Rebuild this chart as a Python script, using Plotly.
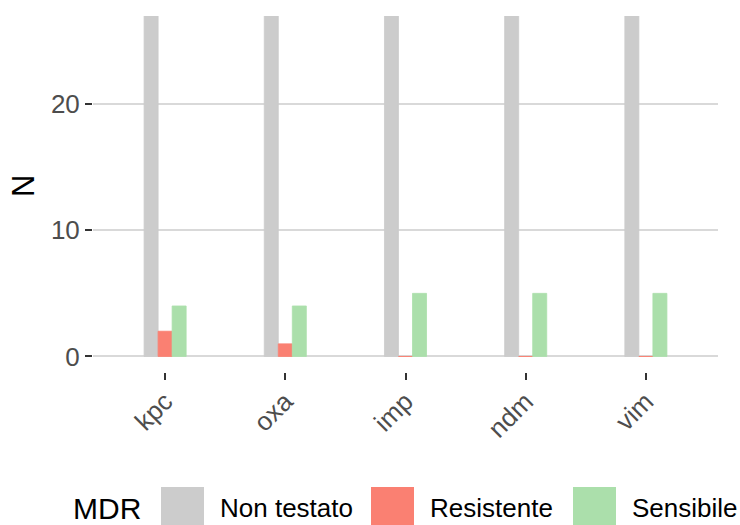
import plotly.graph_objects as go

# Carbapenemase genes tested and counts per MDR status
genes = ["kpc", "oxa", "imp", "ndm", "vim"]
status = ["Non testato", "Resistente", "Sensibile"]
non_testato = [48, 49, 49, 49, 49]
resistente = [2, 1, 0, 0, 0]
sensibile = [4, 4, 5, 5, 5]
colors = ["#CCCCCC", "#FA8072", "#ABDFAB"]
y_ticks = [0, 10, 20]

series = [non_testato, resistente, sensibile]

FONT = "Liberation Sans, Arial, Helvetica, sans-serif"
W, H = 740, 525
ML, MR, MT, MB = 93, 22, 16, 153

fig = go.Figure()
for name, vals, col in zip(status, series, colors):
    fig.add_trace(go.Bar(
        x=genes, y=vals, name=name,
        marker=dict(color=col, line=dict(color=col, width=0.8)),
        showlegend=False, hoverinfo="x+y+name",
    ))

fig.update_layout(
    width=W, height=H,
    margin=dict(l=ML, r=MR, t=MT, b=MB, autoexpand=False),
    plot_bgcolor="white", paper_bgcolor="white",
    barmode="group", bargap=0.65, bargroupgap=0,
    font=dict(family=FONT),
)

fig.update_xaxes(
    type="category", categoryorder="array", categoryarray=genes,
    range=[-0.6, len(genes) - 0.4],
    showgrid=False, zeroline=False, showline=False,
    ticks="outside", ticklen=7, tickwidth=2, tickcolor="#333333",
    tickangle=-45, tickfont=dict(size=26, color="#4D4D4D", family=FONT),
    ticklabelstandoff=-4,
    automargin=False,
)
fig.update_yaxes(
    range=[-1.23, 26.97],
    tickvals=y_ticks, ticktext=[str(v) for v in y_ticks],
    showgrid=True, gridcolor="#D9D9D9", gridwidth=2,
    zeroline=False, showline=False,
    ticks="outside", ticklen=7, tickwidth=2, tickcolor="#333333",
    tickfont=dict(size=26, color="#4D4D4D", family=FONT),
    automargin=False,
)

# Pixel -> paper coordinate helpers
pw = W - ML - MR
ph = H - MT - MB


def px_x(px):
    return (px - ML) / pw


def px_y(py):
    return (H - MB - py) / ph


# Y axis title
fig.add_annotation(x=px_x(24), y=px_y(186), xref="paper", yref="paper",
                   text="N", showarrow=False, textangle=-90,
                   xanchor="center", yanchor="middle",
                   font=dict(size=31, color="black", family=FONT))

# Legend drawn along the bottom edge with large key boxes
fig.add_annotation(x=px_x(71), y=px_y(508), xref="paper", yref="paper",
                   text="MDR", showarrow=False, xanchor="left", yanchor="middle",
                   font=dict(size=30, color="black", family=FONT))
key_left = [161, 371, 573]
for name, col, kx in zip(status, colors, key_left):
    fig.add_shape(type="rect", xref="paper", yref="paper",
                  x0=px_x(kx), x1=px_x(kx + 43), y0=px_y(487), y1=px_y(527),
                  fillcolor=col, line=dict(width=0), layer="above")
    fig.add_annotation(x=px_x(kx + 57), y=px_y(508), xref="paper", yref="paper",
                       text=name, showarrow=False, xanchor="left", yanchor="middle",
                       font=dict(size=26, color="black", family=FONT))

fig.write_html("out.html")
